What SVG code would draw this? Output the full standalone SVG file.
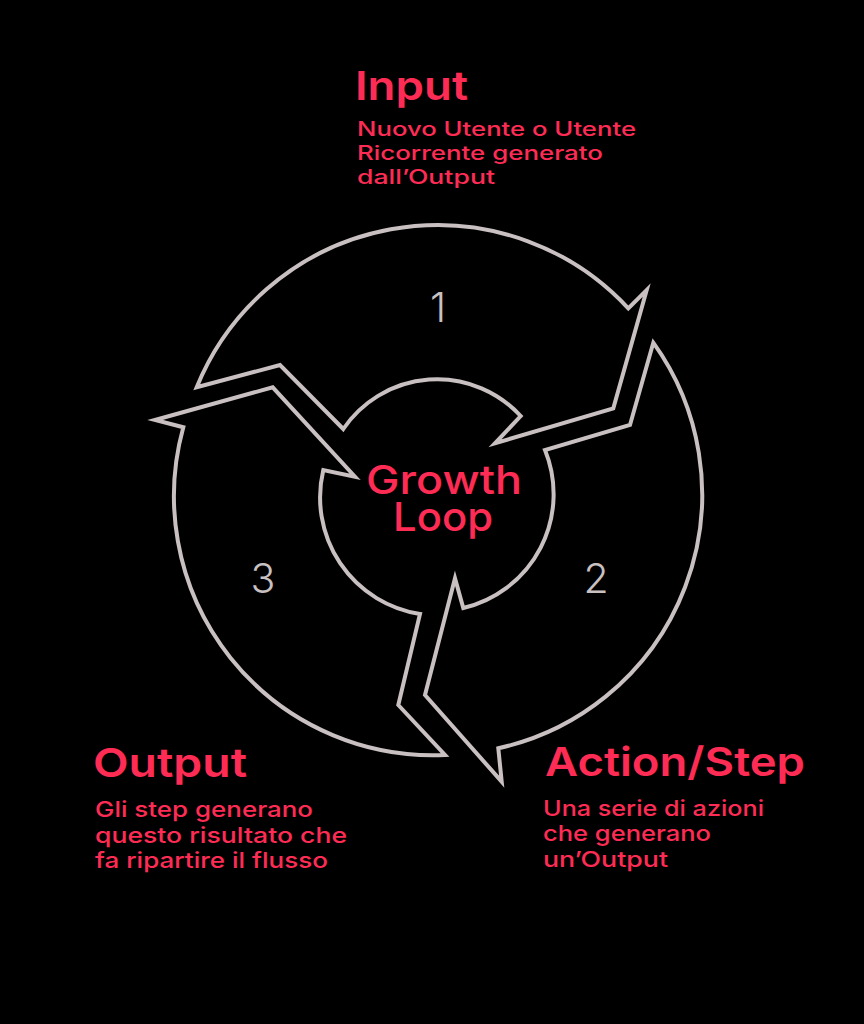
<svg xmlns="http://www.w3.org/2000/svg" width="864" height="1024" viewBox="0 0 864 1024">
<style>
.seg{fill:none;stroke:#c9c0c1;stroke-width:4;stroke-linejoin:miter;stroke-miterlimit:10}
.num{font-family:Inter,"Liberation Sans",sans-serif;font-weight:300;font-size:41px;fill:#c9c0c1;text-anchor:middle}
.head{font-family:Inter,"Liberation Sans",sans-serif;font-weight:600;font-size:40px;fill:#fe2c55}
.body{font-family:Inter,"Liberation Sans",sans-serif;font-weight:500;font-size:22px;fill:#fe2c55}
.bodys{font-family:Inter,"Liberation Sans",sans-serif;font-weight:500;font-size:20px;fill:#fe2c55}
.center{font-family:Inter,"Liberation Sans",sans-serif;font-weight:500;font-size:40px;fill:#fe2c55}
</style>
<rect width="864" height="1024" fill="#000"/>
<g id="connectors"></g>
<g id="step1">
<path class="seg" d="M196.7,387.3 A260,260 0 0 1 628.3,308.3 L646.7,290 L613.3,408.3 L495,443.3 L520.7,416 A113.4,113.4 0 0 0 343.3,429 L280,365 Z"/>
<text class="num" x="438" y="322">1</text>
</g>
<g id="step2">
<path class="seg" d="M653.3,342.7 A260,260 0 0 1 498.3,748.3 L501.7,781.7 L425,695 L455,578.3 L463.3,608 A117,117 0 0 0 545,450 L630,425 Z"/>
<text class="num" x="596" y="593">2</text>
</g>
<g id="step3">
<path class="seg" d="M445,755 A259,259 0 0 1 183.3,427.3 L155,420 L272.7,387.3 L355,476.7 L323.3,470 A118,118 0 0 0 420,614 L398.3,705 Z"/>
<text class="num" x="263" y="593">3</text>
</g>
<g id="center">
<text class="center" x="366" y="494" textLength="156" lengthAdjust="spacingAndGlyphs">Growth</text>
<text class="center" x="393" y="531" textLength="100" lengthAdjust="spacingAndGlyphs">Loop</text>
</g>
<g id="input">
<text class="head" x="355" y="100" textLength="113" lengthAdjust="spacingAndGlyphs">Input</text>
<text class="bodys" x="357" y="136" textLength="279" lengthAdjust="spacingAndGlyphs">Nuovo Utente o Utente</text>
<text class="bodys" x="357" y="160" textLength="246" lengthAdjust="spacingAndGlyphs">Ricorrente generato</text>
<text class="bodys" x="357" y="184" textLength="138" lengthAdjust="spacingAndGlyphs">dall’Output</text>
</g>
<g id="output">
<text class="head" x="93" y="777" textLength="154" lengthAdjust="spacingAndGlyphs">Output</text>
<text class="body" x="95" y="817" textLength="218" lengthAdjust="spacingAndGlyphs">Gli step generano</text>
<text class="body" x="95" y="843" textLength="252" lengthAdjust="spacingAndGlyphs">questo risultato che</text>
<text class="body" x="95" y="868" textLength="233" lengthAdjust="spacingAndGlyphs">fa ripartire il flusso</text>
</g>
<g id="action">
<text class="head" x="545" y="776" textLength="260" lengthAdjust="spacingAndGlyphs">Action/Step</text>
<text class="body" x="543" y="816" textLength="221" lengthAdjust="spacingAndGlyphs">Una serie di azioni</text>
<text class="body" x="543" y="841" textLength="168" lengthAdjust="spacingAndGlyphs">che generano</text>
<text class="body" x="543" y="867" textLength="125" lengthAdjust="spacingAndGlyphs">un’Output</text>
</g>
</svg>
